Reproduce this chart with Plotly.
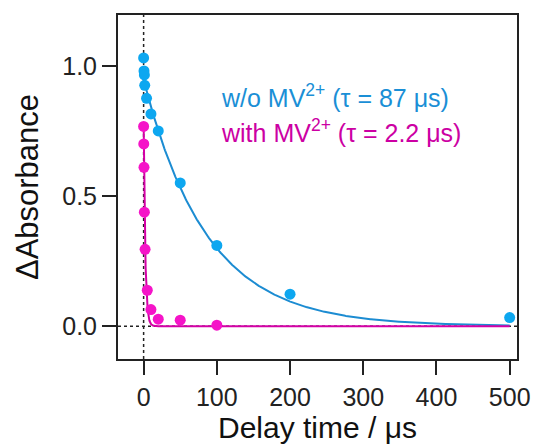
import numpy as np
import plotly.graph_objects as go

# Data
t_wo = [0, 0.5, 1, 1.5, 4, 10, 20, 50, 100, 200, 500]
a_wo = [1.03, 0.98, 0.965, 0.925, 0.875, 0.815, 0.75, 0.55, 0.31, 0.123, 0.033]

t_with = [0, 0.2, 0.5, 1, 2, 5, 10, 20, 50, 100]
a_with = [0.767, 0.70, 0.61, 0.438, 0.295, 0.138, 0.064, 0.027, 0.023, 0.004]

# Fit parameters (single-exponential fits)
tau_wo, amp_wo = 87.0, 0.945
tau_with, amp_with = 2.2, 0.78

x_ticks = [0, 100, 200, 300, 400, 500]
y_ticks = [0.0, 0.5, 1.0]
y_ticklabels = ["0.0", "0.5", "1.0"]

blue_pt = "#0DA7F0"
blue_ln = "#1C8CD2"
mag_pt = "#F514C8"
mag_ln = "#D400A6"

t_fit_wo = np.linspace(0, 500, 600)
t_fit_with = np.concatenate([np.linspace(0, 30, 400), np.linspace(30, 500, 100)])

fig = go.Figure()
fig.add_trace(go.Scatter(x=t_fit_wo, y=amp_wo * np.exp(-t_fit_wo / tau_wo), mode="lines",
                         line=dict(color=blue_ln, width=2), showlegend=False, hoverinfo="skip"))
fig.add_trace(go.Scatter(x=t_fit_with, y=amp_with * np.exp(-t_fit_with / tau_with), mode="lines",
                         line=dict(color=mag_ln, width=2), showlegend=False, hoverinfo="skip"))
fig.add_trace(go.Scatter(x=t_wo, y=a_wo, mode="markers",
                         marker=dict(color=blue_pt, size=11), showlegend=False))
fig.add_trace(go.Scatter(x=t_with, y=a_with, mode="markers",
                         marker=dict(color=mag_pt, size=11), showlegend=False))

# dotted reference lines at t = 0 and ΔA = 0
fig.add_shape(type="line", xref="x", yref="paper", x0=0, x1=0, y0=0, y1=1,
              line=dict(color="#222", width=1.5, dash="dot"), layer="below")
fig.add_shape(type="line", xref="paper", yref="y", x0=0, x1=1, y0=0, y1=0,
              line=dict(color="#222", width=1.5, dash="dot"), layer="below")

font_main = "Arial, Liberation Sans, sans-serif"
fig.add_annotation(xref="x", yref="y", x=103, y=0.885, xanchor="left", yanchor="middle",
                   text="w/o MV<sup>2+</sup> (τ = 87 μs)", showarrow=False,
                   font=dict(family=font_main, size=25, color="#1A8FD6"))
fig.add_annotation(xref="x", yref="y", x=103, y=0.75, xanchor="left", yanchor="middle",
                   text="with MV<sup>2+</sup> (τ = 2.2 μs)", showarrow=False,
                   font=dict(family=font_main, size=25, color="#CC00A3"))

axis_common = dict(showgrid=False, zeroline=False, showline=True, linecolor="#222",
                   linewidth=2, mirror=True, ticks="outside", ticklen=14, tickwidth=2,
                   tickcolor="#222", tickfont=dict(family=font_main, size=25, color="#222"),
                   automargin=False)

fig.update_xaxes(range=[-35, 510], tickvals=x_ticks, ticklabelstandoff=1,
                 title=dict(text="Delay time / μs", font=dict(family=font_main, size=30, color="#111"),
                            standoff=2),
                 **axis_common)
fig.update_yaxes(range=[-0.126, 1.195], tickvals=y_ticks, ticktext=y_ticklabels,
                 title=dict(text="ΔAbsorbance", font=dict(family=font_main, size=31, color="#111"),
                            standoff=14),
                 **axis_common)

fig.update_layout(width=533, height=444, margin=dict(l=118, r=16, t=15, b=85),
                  plot_bgcolor="white", paper_bgcolor="white")

fig.write_html("out.html")
